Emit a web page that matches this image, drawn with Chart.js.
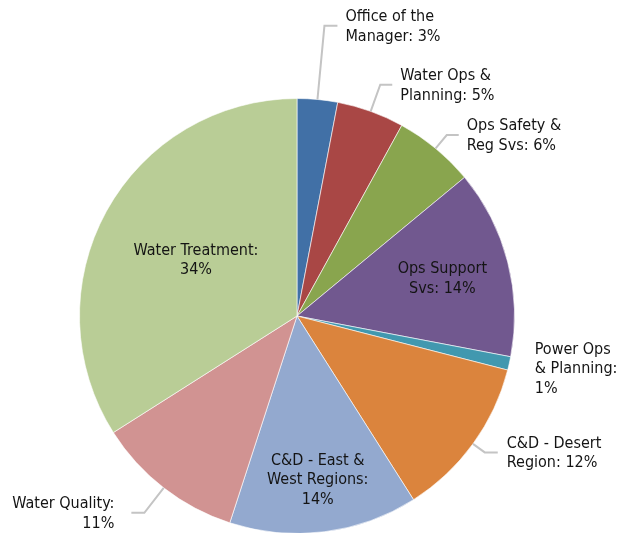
<!DOCTYPE html>
<html>
<head>
<meta charset="utf-8">
<script src="https://cdn.jsdelivr.net/npm/chart.js@4"></script>
<style>
  html, body { margin: 0; padding: 0; background: #fff; overflow: hidden; }
  #wrap { width: 623px; height: 540px; position: relative; }
</style>
</head>
<body>
<div id="wrap"><canvas id="pieChart"></canvas></div>
<script>
const categories = [
  "Office of the Manager",
  "Water Ops & Planning",
  "Ops Safety & Reg Svs",
  "Ops Support Svs",
  "Power Ops & Planning",
  "C&D - Desert Region",
  "C&D - East & West Regions",
  "Water Quality",
  "Water Treatment"
];
const shares = [3, 5, 6, 14, 1, 12, 14, 11, 34];
const labelLines = [
  ["Office of the", "Manager: 3%"],
  ["Water Ops &", "Planning: 5%"],
  ["Ops Safety &", "Reg Svs: 6%"],
  ["Ops Support", "Svs: 14%"],
  ["Power Ops", "& Planning:", "1%"],
  ["C&D - Desert", "Region: 12%"],
  ["C&D - East &", "West Regions:", "14%"],
  ["Water Quality:", "11%"],
  ["Water Treatment:", "34%"]
];
const colors = ["#4170a6", "#a94745", "#89a54e", "#71588f", "#4198af", "#db843d", "#93a9cf", "#d19392", "#b9cd96"];

// how each label sits: inside the slice, outside with a leader line, or outside free
const labelLayout = [
  { kind: "leader", bend: 1.34, side: 1, arm: 13, gap: 8 },
  { kind: "leader", bend: 1.13, side: 1, arm: 12, gap: 8 },
  { kind: "leader", bend: 1.08, side: 1, arm: 12, gap: 8 },
  { kind: "inside", dist: 0.69 },
  { kind: "free", dist: 1.12, align: "left" },
  { kind: "leader", bend: 1.067, side: 1, arm: 13, gap: 9 },
  { kind: "inside", dist: 0.76 },
  { kind: "leader", bend: 1.145, side: -1, arm: 13, gap: 17 },
  { kind: "inside", dist: 0.53 }
];

const FONT = "16px 'DejaVu Sans Condensed', 'DejaVu Sans', sans-serif";
const LINE_H = 19.5;

const pieLabels = {
  id: "pieLabels",
  afterDatasetsDraw(chart) {
    const ctx = chart.ctx;
    const meta = chart.getDatasetMeta(0);
    ctx.save();
    ctx.font = FONT;
    ctx.fillStyle = "#141414";
    ctx.textBaseline = "middle";
    meta.data.forEach((arc, i) => {
      const p = arc.getProps(["x", "y", "startAngle", "endAngle", "outerRadius"], true);
      const mid = (p.startAngle + p.endAngle) / 2;
      const cos = Math.cos(mid), sin = Math.sin(mid);
      const lay = labelLayout[i];
      const lines = labelLines[i];
      let tx, ty, align;
      if (lay.kind === "inside") {
        tx = p.x + cos * p.outerRadius * lay.dist;
        ty = p.y + sin * p.outerRadius * lay.dist;
        align = "center";
      } else if (lay.kind === "free") {
        tx = p.x + cos * p.outerRadius * lay.dist;
        ty = p.y + sin * p.outerRadius * lay.dist;
        align = lay.align;
      } else {
        const ex = p.x + cos * p.outerRadius, ey = p.y + sin * p.outerRadius;
        const bx = p.x + cos * p.outerRadius * lay.bend, by = p.y + sin * p.outerRadius * lay.bend;
        const hx = bx + lay.side * lay.arm;
        ctx.beginPath();
        ctx.moveTo(ex, ey);
        ctx.lineTo(bx, by);
        ctx.lineTo(hx, by);
        ctx.strokeStyle = "#c4c4c4";
        ctx.lineWidth = 2;
        ctx.stroke();
        tx = hx + lay.side * lay.gap;
        ty = by + 1;
        align = lay.side > 0 ? "left" : "right";
      }
      ctx.textAlign = align;
      const top = ty - (lines.length - 1) * LINE_H / 2;
      lines.forEach((ln, k) => ctx.fillText(ln, tx, top + k * LINE_H));
    });
    ctx.restore();
  }
};

new Chart(document.getElementById("pieChart"), {
  type: "pie",
  data: {
    labels: categories,
    datasets: [{
      data: shares,
      backgroundColor: colors,
      borderColor: "rgba(255,255,255,0.6)",
      borderWidth: 1
    }]
  },
  options: {
    responsive: true,
    maintainAspectRatio: false,
    animation: false,
    layout: { padding: { top: 98, bottom: 6, left: 79, right: 108 } },
    plugins: {
      legend: { display: false },
      tooltip: { enabled: false }
    }
  },
  plugins: [pieLabels]
});
</script>
</body>
</html>
